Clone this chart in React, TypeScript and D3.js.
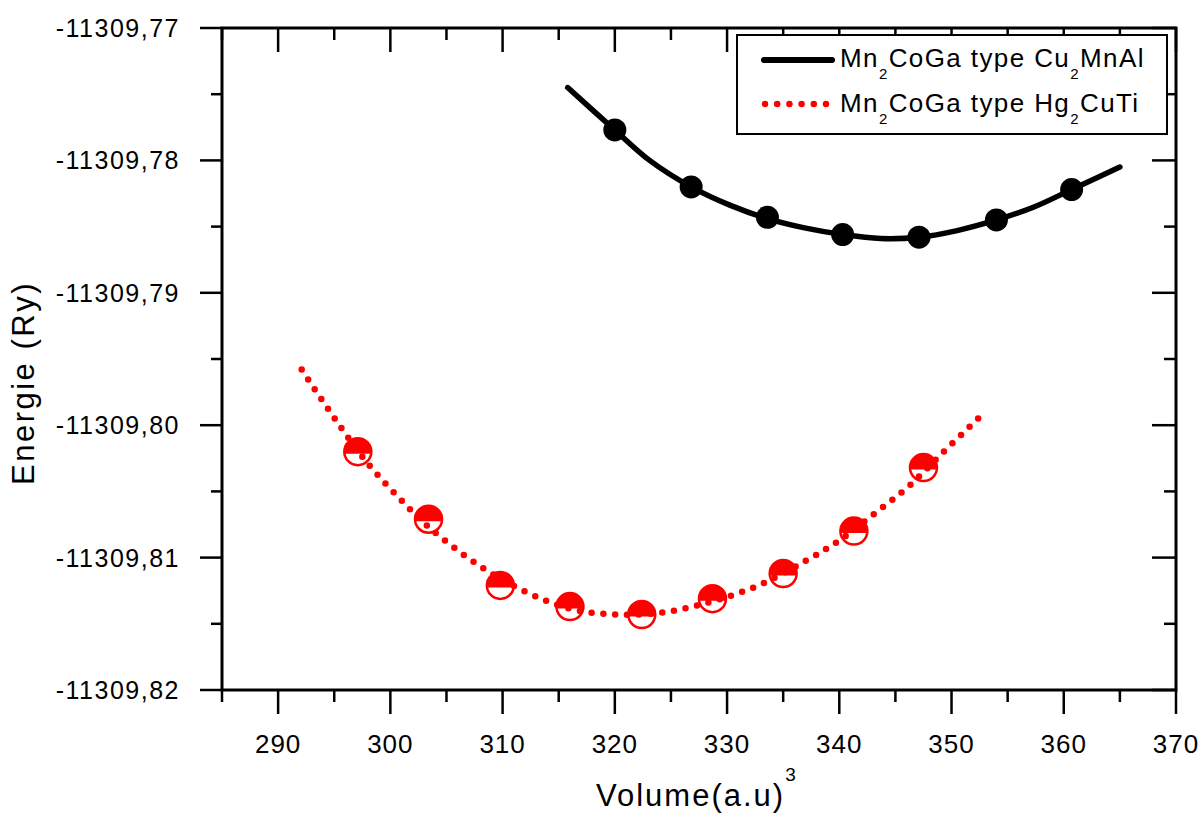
import React from 'react';
import * as d3 from 'd3';

// constants
const width = 1201;
const height = 815;
const margin = { top: 28, right: 25, bottom: 125, left: 222 };
const innerRight = width - margin.right;
const innerBottom = height - margin.bottom;
const font = '"Liberation Sans", Arial, sans-serif';

// Mn2CoGa type Cu2MnAl : computed points + fitted curve
const cuVolume = [320.0, 326.8, 333.6, 340.3, 347.1, 354.0, 360.7];
const cuEnergy = [-11309.7777, -11309.782, -11309.7843, -11309.7856, -11309.7858, -11309.7845, -11309.7822];
const cuFitVolume = [315.8, 320.0, 323.1, 326.8, 330.3, 333.6, 336.9, 340.3, 343.7, 347.1, 350.5, 354.0, 357.4, 360.7, 365.0];
const cuFitEnergy = [-11309.7745, -11309.7777, -11309.78, -11309.782, -11309.7834, -11309.7844, -11309.7851, -11309.7856,
  -11309.7859, -11309.7858, -11309.7853, -11309.7845, -11309.7835, -11309.7822, -11309.7805];

// Mn2CoGa type Hg2CuTi
const hgVolume = [297.1, 303.4, 309.8, 316.0, 322.4, 328.7, 335.0, 341.3, 347.5];
const hgEnergy = [-11309.802, -11309.8071, -11309.8121, -11309.8137, -11309.8143, -11309.8131, -11309.8112, -11309.808, -11309.8032];
const hgFitVolume = [292.1, 294.8, 297.9, 301.7, 303.7, 307.9, 312.1, 316.2, 320.4, 324.6, 328.7, 332.8, 336.9, 340.0, 343.1, 346.2, 349.3, 352.5];
const hgFitEnergy = [-11309.7958, -11309.7992, -11309.8028, -11309.8063, -11309.8079, -11309.8106, -11309.8126, -11309.8139,
  -11309.8143, -11309.8141, -11309.8133, -11309.8121, -11309.8103, -11309.8087, -11309.8067, -11309.8046, -11309.802, -11309.7994];

// ticks
const xMajor = [290, 300, 310, 320, 330, 340, 350, 360, 370];
const xMinor = [285, 295, 305, 315, 325, 335, 345, 355, 365];
const yMajor = [-11309.77, -11309.78, -11309.79, -11309.80, -11309.81, -11309.82];
const yMinor = [-11309.775, -11309.785, -11309.795, -11309.805, -11309.815];
const yLabels = ['-11309,77', '-11309,78', '-11309,79', '-11309,80', '-11309,81', '-11309,82'];

const App = () => {
  // scales
  const x = d3.scaleLinear().domain([285, 370]).range([margin.left, innerRight]);
  const y = d3.scaleLinear().domain([-11309.77, -11309.82]).range([margin.top, innerBottom]);

  const line = d3.line<[number, number]>()
    .x(d => x(d[0]))
    .y(d => y(d[1]))
    .curve(d3.curveCatmullRom.alpha(0.5));

  const cuFit = cuFitVolume.map((v, i) => [v, cuFitEnergy[i]] as [number, number]);
  const hgFit = hgFitVolume.map((v, i) => [v, hgFitEnergy[i]] as [number, number]);

  const majorLen = 24;
  const minorLen = 12;
  const tickW = 2.5;
  const r = 13.5;
  const chord = 2; // filled part a bit more than the upper half

  return (
    <svg width={width} height={height} style={{ position: 'absolute', left: 0, top: 0, background: '#fff' }}
      fontFamily={font}>
      <rect width={width} height={height} fill="#fff" />

      {/* red markers: top half filled */}
      {hgVolume.map((v, i) => {
        const cx = x(v), cy = y(hgEnergy[i]);
        const hw = Math.sqrt(r * r - chord * chord);
        return (
          <g key={'hg' + i}>
            <circle cx={cx} cy={cy} r={r} fill="#fff" stroke="#ff0000" strokeWidth={2.5} />
            <path d={`M${cx - hw},${cy + chord} A${r},${r} 0 1 1 ${cx + hw},${cy + chord} Z`} fill="#ff0000" />
          </g>
        );
      })}
      <path d={line(hgFit) || ''} fill="none" stroke="#ff0000" strokeWidth={6.5}
        strokeLinecap="round" strokeDasharray="0 11.8" />

      {/* black fit + markers */}
      <path d={line(cuFit) || ''} fill="none" stroke="#000" strokeWidth={5.5} strokeLinecap="round" />
      {cuVolume.map((v, i) => (
        <circle key={'cu' + i} cx={x(v)} cy={y(cuEnergy[i])} r={11.5} fill="#000" />
      ))}

      {/* frame */}
      <rect x={margin.left} y={margin.top} width={innerRight - margin.left} height={innerBottom - margin.top}
        fill="none" stroke="#000" strokeWidth={3} />

      {/* x ticks bottom (out) and top (in) */}
      {xMajor.map(t => (
        <g key={'xM' + t} stroke="#000" strokeWidth={tickW}>
          <line x1={x(t)} x2={x(t)} y1={innerBottom} y2={innerBottom + majorLen} />
          <line x1={x(t)} x2={x(t)} y1={margin.top} y2={margin.top + majorLen} />
        </g>
      ))}
      {xMinor.map(t => (
        <g key={'xm' + t} stroke="#000" strokeWidth={tickW}>
          <line x1={x(t)} x2={x(t)} y1={innerBottom} y2={innerBottom + minorLen} />
          <line x1={x(t)} x2={x(t)} y1={margin.top} y2={margin.top + minorLen} />
        </g>
      ))}
      {xMajor.map(t => (
        <text key={'xl' + t} x={x(t)} y={753} fontSize={26} letterSpacing={1} textAnchor="middle" fill="#000">{t}</text>
      ))}

      {/* y ticks left (out) and right (in) */}
      {yMajor.map(t => (
        <g key={'yM' + t} stroke="#000" strokeWidth={tickW}>
          <line x1={margin.left - 22} x2={margin.left} y1={y(t)} y2={y(t)} />
          <line x1={innerRight - majorLen} x2={innerRight} y1={y(t)} y2={y(t)} />
        </g>
      ))}
      {yMinor.map(t => (
        <g key={'ym' + t} stroke="#000" strokeWidth={tickW}>
          <line x1={margin.left - 11} x2={margin.left} y1={y(t)} y2={y(t)} />
          <line x1={innerRight - minorLen} x2={innerRight} y1={y(t)} y2={y(t)} />
        </g>
      ))}
      {yMajor.map((t, i) => (
        <text key={'yl' + i} x={180} y={y(t) + 9} fontSize={25} letterSpacing={1.5} textAnchor="end" fill="#000">
          {yLabels[i]}
        </text>
      ))}

      {/* axis titles */}
      <text transform="translate(34,383) rotate(-90)" fontSize={31} letterSpacing={2.5} textAnchor="middle" fill="#000">
        Energie (Ry)
      </text>
      <text x={596} y={806} fontSize={31} letterSpacing={2} fill="#000">
        Volume(a.u)<tspan fontSize={19} dy={-25}>3</tspan>
      </text>

      {/* legend */}
      <rect x={737} y={35} width={430} height={99} fill="#fff" stroke="#000" strokeWidth={2} />
      <line x1={764} x2={832} y1={60} y2={60} stroke="#000" strokeWidth={6} strokeLinecap="round" />
      <line x1={765} x2={827} y1={104} y2={104} stroke="#ff0000" strokeWidth={6.5} strokeLinecap="round"
        strokeDasharray="0 12.2" />
      <text x={840} y={67} fontSize={26} letterSpacing={1.4} fill="#000">
        Mn<tspan fontSize={15} dy={12}>2</tspan><tspan dy={-12}>CoGa type Cu</tspan>
        <tspan fontSize={15} dy={12}>2</tspan><tspan dy={-12}>MnAl</tspan>
      </text>
      <text x={840} y={112} fontSize={26} letterSpacing={1.4} fill="#000">
        Mn<tspan fontSize={15} dy={12}>2</tspan><tspan dy={-12}>CoGa type Hg</tspan>
        <tspan fontSize={15} dy={12}>2</tspan><tspan dy={-12}>CuTi</tspan>
      </text>
    </svg>
  );
};

export default App;
